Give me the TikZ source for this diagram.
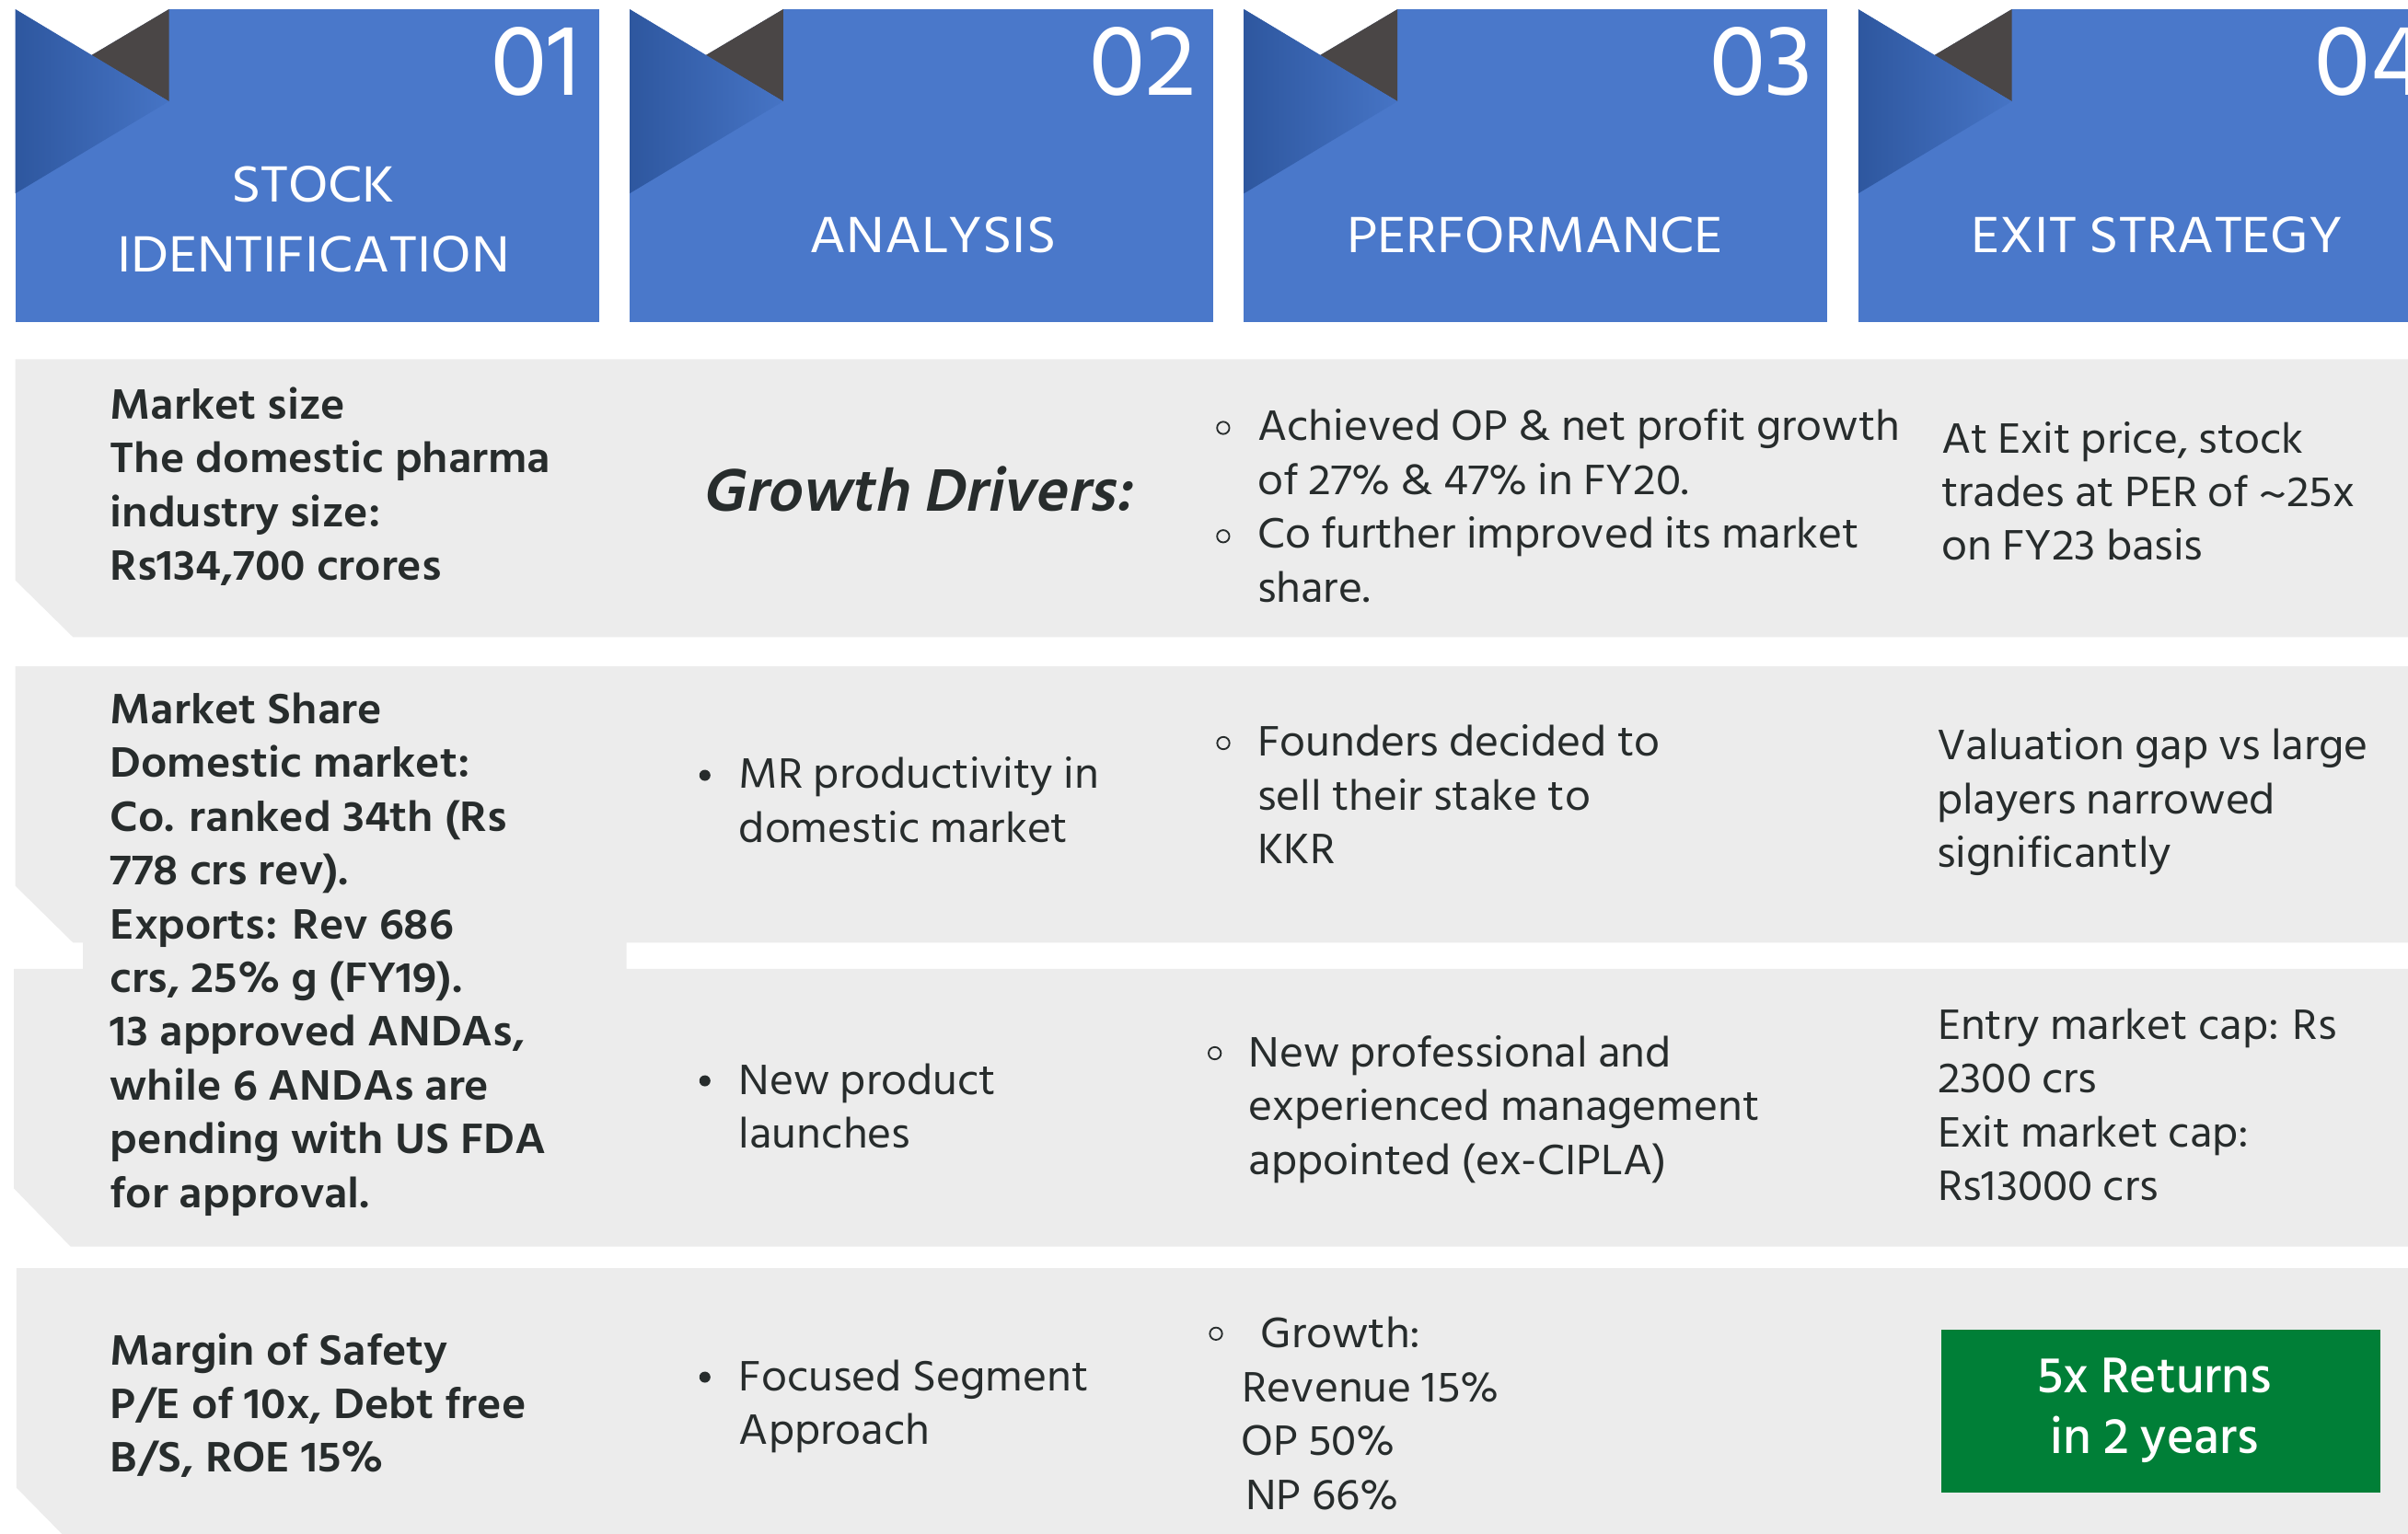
\documentclass[tikz,border=0pt]{standalone}
\usepackage{fontspec}
\newfontfamily\hindreg[FakeStretch=1.05]{Hind Siliguri}
\newfontfamily\hindhead[FakeStretch=1.09]{Hind Siliguri}
\newfontfamily\hindnum{Hind Siliguri}
\newfontfamily\hindmed[FakeStretch=1.06]{Hind Siliguri SemiBold}
\newfontfamily\hindgreen{Hind Siliguri Medium}
\newfontfamily\hindsemi[FakeSlant=0.2]{Hind Siliguri SemiBold}
\definecolor{hblue}{HTML}{4A78CA}
\definecolor{gdark}{HTML}{2E579F}
\definecolor{glight}{HTML}{4674C5}
\definecolor{hgray}{HTML}{4A4646}
\definecolor{rowgray}{HTML}{ECECEC}
\definecolor{txt}{HTML}{272C2C}
\definecolor{greenbox}{HTML}{007F37}
\tikzset{
  body/.style={font=\hindreg\fontsize{28.4}{35}\selectfont, text=txt, inner sep=0pt, anchor=base west},
  bodymed/.style={body, font=\hindmed\fontsize{28.4}{35}\selectfont},
  head/.style={font=\hindhead\fontsize{34}{40}\selectfont, text=white, inner sep=0pt, anchor=base},
  num/.style={font=\hindnum\fontsize{67}{72}\selectfont, text=white, inner sep=0pt, anchor=base east},
  gdrive/.style={font=\hindsemi\fontsize{40}{48}\selectfont, text=txt, inner sep=0pt, anchor=base west},
  gtxt/.style={font=\hindgreen\fontsize{33.5}{40}\selectfont, text=white, inner sep=0pt, anchor=base},
  ring/.style={draw=txt, line width=1.1pt},
  bdot/.style={fill=txt},
}
\newcommand\tl[5]{\node[#2] (#1) at (#3,#4) {#5};}
\newcommand\hdrshape{%
  \fill[hblue] (10,6) rectangle (390,210);
  \fill[white] (10,6) -- (110,6) -- (59.5,36) -- cycle;
  \fill[hgray] (59.5,36) -- (110,6) -- (110,66) -- cycle;
  \shade[left color=gdark, right color=glight] (10,6) -- (110,66) -- (10,126) -- cycle;
}
\begin{document}
\begin{tikzpicture}[x=1pt,y=-1pt]
\useasboundingbox (0,0) rectangle (1568,999);
\clip (0,0) rectangle (1568,999);
\fill[white] (0,0) rectangle (1568,999);
% headers
\hdrshape
\begin{scope}[xshift=400pt]\hdrshape\end{scope}
\begin{scope}[xshift=800pt]\hdrshape\end{scope}
\begin{scope}[xshift=1200pt]\hdrshape\end{scope}
\tl{n1}{num}{378}{62}{01}
\tl{n2}{num}{779}{62}{02}
\tl{n3}{num}{1181}{62}{03}
\tl{n4}{num}{1580}{62}{04}
\tl{h1a}{head}{204}{131.7}{STOCK}
\tl{h1b}{head}{204}{177.2}{IDENTIFICATION}
\tl{h2}{head}{607.5}{164.5}{ANALYSIS}
\tl{h3}{head}{999.5}{164.5}{PERFORMANCE}
\tl{h4}{head}{1404.6}{164.5}{EXIT STRATEGY}
% grey rows
\fill[rowgray] (10,234) -- (1568,234) -- (1568,415) -- (47.6,415) -- (10,378) -- cycle;
\fill[rowgray] (10,434) -- (1568,434) -- (1568,614) -- (408,614) -- (408,631) -- (1568,631)
  -- (1568,812) -- (46,812) -- (9,774) -- (9,631) -- (54,631) -- (54,614) -- (47.6,614) -- (10,577) -- cycle;
\fill[rowgray] (10.7,826) -- (1568,826) -- (1568,1010) -- (51,1010) -- (10.7,969) -- cycle;
% column 1
\tl{c1a}{bodymed}{71.5}{273}{Market size}
\tl{c1b}{bodymed}{71.5}{308}{The domestic pharma}
\tl{c1c}{bodymed}{71.5}{343}{industry size:}
\tl{c1d}{bodymed}{71.5}{378}{Rs134,700 crores}
\tl{c2a}{bodymed}{71.5}{471.4}{Market Share}
\tl{c2b}{bodymed}{71.5}{506.4}{Domestic market:}
\tl{c2c}{bodymed}{71.5}{541.4}{Co. ranked 34th (Rs}
\tl{c2d}{bodymed}{71.5}{576.4}{778 crs rev).}
\tl{c2e}{bodymed}{71.5}{611.4}{Exports: Rev 686}
\tl{c2f}{bodymed}{71.5}{646.4}{crs, 25\% g (FY19).}
\tl{c2g}{bodymed}{71.5}{681.4}{13 approved ANDAs,}
\tl{c2h}{bodymed}{71.5}{716.4}{while 6 ANDAs are}
\tl{c2i}{bodymed}{71.5}{751.4}{pending with US FDA}
\tl{c2j}{bodymed}{71.5}{786.4}{for approval.}
\tl{c4a}{bodymed}{71.5}{889}{Margin of Safety}
\tl{c4b}{bodymed}{71.5}{924}{P/E of 10x, Debt free}
\tl{c4c}{bodymed}{71.5}{959}{B/S, ROE 15\%}
% column 2
\tl{gd}{gdrive}{457}{333}{Growth Drivers:}
\fill[bdot] (459,505) circle (3.6);
\tl{m2a}{body}{481}{513.6}{MR productivity in}
\tl{m2b}{body}{481}{548.6}{domestic market}
\fill[bdot] (459,704) circle (3.6);
\tl{m3a}{body}{481}{713}{New product}
\tl{m3b}{body}{481}{748}{launches}
\fill[bdot] (459,897) circle (3.6);
\tl{m4a}{body}{481}{906}{Focused Segment}
\tl{m4b}{body}{481}{941}{Approach}
% column 3
\draw[ring] (796.5,278.7) circle (4);
\draw[ring] (796.5,349.3) circle (4);
\tl{p1a}{body}{818.6}{287}{Achieved OP \& net profit growth}
\tl{p1b}{body}{818.6}{322}{of 27\% \& 47\% in FY20.}
\tl{p1c}{body}{818.6}{357}{Co further improved its market}
\tl{p1d}{body}{818.6}{392}{share.}
\draw[ring] (796.6,484) circle (4);
\tl{p2a}{body}{818.7}{492.6}{Founders decided to}
\tl{p2b}{body}{818.7}{527.6}{sell their stake to}
\tl{p2c}{body}{818.7}{562.6}{KKR}
\draw[ring] (791,686) circle (4);
\tl{p3a}{body}{813}{695}{New professional and}
\tl{p3b}{body}{813}{730}{experienced management}
\tl{p3c}{body}{813}{765}{appointed (ex-CIPLA)}
\draw[ring] (791.8,868.7) circle (4);
\tl{p4a}{body}{820.8}{877.5}{Growth:}
\tl{p4b}{body}{808.8}{913}{Revenue 15\%}
\tl{p4c}{body}{808}{948}{OP 50\%}
\tl{p4d}{body}{811}{983}{NP 66\%}
% column 4
\tl{e1a}{body}{1264}{295}{At Exit price, stock}
\tl{e1b}{body}{1264}{330}{trades at PER of \textasciitilde25x}
\tl{e1c}{body}{1264}{365}{on FY23 basis}
\tl{e2a}{body}{1261}{495}{Valuation gap vs large}
\tl{e2b}{body}{1261}{530}{players narrowed}
\tl{e2c}{body}{1261}{565}{significantly}
\tl{e3a}{body}{1261.6}{677}{Entry market cap: Rs}
\tl{e3b}{body}{1261.6}{712}{2300 crs}
\tl{e3c}{body}{1261.6}{747}{Exit market cap:}
\tl{e3d}{body}{1261.6}{782}{Rs13000 crs}
\node[fill=greenbox, minimum width=285.6pt, minimum height=106pt, inner sep=0pt, anchor=north west] (gbox) at (1264,866) {};
\tl{g1}{gtxt}{1403}{907}{5x Returns}
\tl{g2}{gtxt}{1403}{947}{in 2 years}
\end{tikzpicture}
\end{document}
